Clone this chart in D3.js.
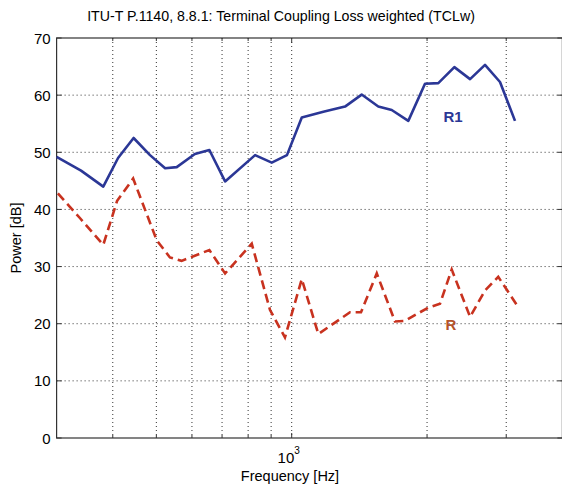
<!DOCTYPE html>
<html>
<head>
<meta charset="utf-8">
<script src="https://cdn.jsdelivr.net/npm/d3@7"></script>
<style>
  body { margin: 0; background: #fff; }
  svg { font-family: "Liberation Sans", Arial, sans-serif; }
</style>
</head>
<body>
<svg width="562" height="484"></svg>
<script>
// R1 (solid blue) - frequency [Hz] and level [dB]
const r1Freq = [300, 340, 381, 411, 445, 484, 523, 555, 609, 656, 711, 829, 903, 976,
                1053, 1176, 1314, 1431, 1558, 1669, 1817, 1979, 2119, 2300, 2493, 2691, 2906, 3138];
const r1Level = [49.2, 46.8, 44.0, 49.0, 52.5, 49.5, 47.2, 47.4, 49.7, 50.4, 44.9, 49.5, 48.2, 49.5,
                 56.1, 57.1, 58.0, 60.1, 58.0, 57.4, 55.5, 62.0, 62.1, 64.9, 62.8, 65.3, 62.3, 55.5];

// R (dashed red)
const rFreq = [302, 338, 381, 409, 444, 501, 536, 569, 656, 711, 815, 895, 966,
               1053, 1146, 1248, 1348, 1426, 1546, 1697, 1786, 2010, 2137, 2269, 2493, 2691, 2880, 3166];
const rLevel = [42.8, 38.5, 33.8, 41.5, 45.4, 34.6, 31.6, 31.0, 32.9, 28.8, 34.0, 22.4, 17.6,
                27.8, 18.2, 20.2, 22.0, 22.0, 28.8, 20.4, 20.5, 22.8, 23.5, 29.5, 21.2, 25.8, 28.2, 23.3];

const yTicks = [0, 10, 20, 30, 40, 50, 60, 70];
const xGrid = [400, 500, 600, 700, 800, 900, 1000, 2000, 3000];

const svg = d3.select("svg");
svg.append("rect").attr("width", 562).attr("height", 484).attr("fill", "#fff");

const x = d3.scaleLog().domain([300, 4000]).range([56.6, 562.4]);
const y = d3.scaleLinear().domain([0, 70]).range([438, 38]);

const plotL = x.range()[0], plotR = x.range()[1];
const plotT = y(70), plotB = y(0);

// dotted grid
svg.append("g").selectAll("line")
    .data(yTicks.filter(d => d > 0 && d < 70))
    .enter().append("line")
    .attr("x1", plotL).attr("x2", plotR)
    .attr("y1", d => y(d)).attr("y2", d => y(d))
    .attr("stroke", "#333").attr("stroke-width", 1)
    .attr("stroke-dasharray", "1,3");

svg.append("g").selectAll("line")
    .data(xGrid)
    .enter().append("line")
    .attr("x1", d => x(d)).attr("x2", d => x(d))
    .attr("y1", plotT).attr("y2", plotB)
    .attr("stroke", "#333").attr("stroke-width", 1)
    .attr("stroke-dasharray", "1,3");

// box
svg.append("rect")
    .attr("x", plotL).attr("y", plotT)
    .attr("width", plotR - plotL).attr("height", plotB - plotT)
    .attr("fill", "none").attr("stroke", "#333").attr("stroke-width", 1.2);

// ticks inside (left/right for y, bottom/top for x)
const tl = 5;
yTicks.forEach(v => {
    svg.append("line").attr("x1", plotL).attr("x2", plotL + tl)
        .attr("y1", y(v)).attr("y2", y(v)).attr("stroke", "#333");
    svg.append("line").attr("x1", plotR - tl).attr("x2", plotR)
        .attr("y1", y(v)).attr("y2", y(v)).attr("stroke", "#333");
});
xGrid.forEach(v => {
    const len = v === 1000 ? 5 : 3;
    svg.append("line").attr("x1", x(v)).attr("x2", x(v))
        .attr("y1", plotB).attr("y2", plotB - len).attr("stroke", "#333");
    svg.append("line").attr("x1", x(v)).attr("x2", x(v))
        .attr("y1", plotT).attr("y2", plotT + len).attr("stroke", "#333");
});

// y tick labels
svg.append("g").selectAll("text")
    .data(yTicks)
    .enter().append("text")
    .attr("x", plotL - 6)
    .attr("y", d => y(d) + 5.5)
    .attr("text-anchor", "end")
    .style("font-size", "15px")
    .text(d => d);

// x tick label 10^3
const xl = svg.append("text")
    .attr("x", x(1000) - 3).attr("y", 463)
    .attr("text-anchor", "middle")
    .style("font-size", "15px");
xl.append("tspan").text("10");
xl.append("tspan").attr("dy", -9).style("font-size", "10px").text("3");

// axis titles
svg.append("text")
    .attr("x", 290).attr("y", 481)
    .attr("text-anchor", "middle")
    .style("font-size", "14.5px")
    .text("Frequency [Hz]");

svg.append("text")
    .attr("transform", "translate(21,238) rotate(-90)")
    .attr("text-anchor", "middle")
    .style("font-size", "14.5px")
    .text("Power [dB]");

svg.append("text")
    .attr("x", 281).attr("y", 21)
    .attr("text-anchor", "middle")
    .style("font-size", "14.2px")
    .text("ITU-T P.1140, 8.8.1: Terminal Coupling Loss weighted (TCLw)");

// lines
const line = d3.line().x(d => x(d[0])).y(d => y(d[1]));

svg.append("path")
    .datum(d3.zip(r1Freq, r1Level))
    .attr("d", line)
    .attr("fill", "none")
    .attr("stroke", "#2b3796")
    .attr("stroke-width", 2.6)
    .attr("stroke-linejoin", "round");

svg.append("path")
    .datum(d3.zip(rFreq, rLevel))
    .attr("d", line)
    .attr("fill", "none")
    .attr("stroke", "#c8321f")
    .attr("stroke-width", 2.6)
    .attr("stroke-dasharray", "9,5");

// series labels
svg.append("text")
    .attr("x", 453).attr("y", 122)
    .attr("text-anchor", "middle")
    .style("font-size", "15px").style("font-weight", "bold")
    .attr("fill", "#2b3796")
    .text("R1");

svg.append("text")
    .attr("x", 451).attr("y", 330)
    .attr("text-anchor", "middle")
    .style("font-size", "15px").style("font-weight", "bold")
    .attr("fill", "#b5532a")
    .text("R");
</script>
</body>
</html>
